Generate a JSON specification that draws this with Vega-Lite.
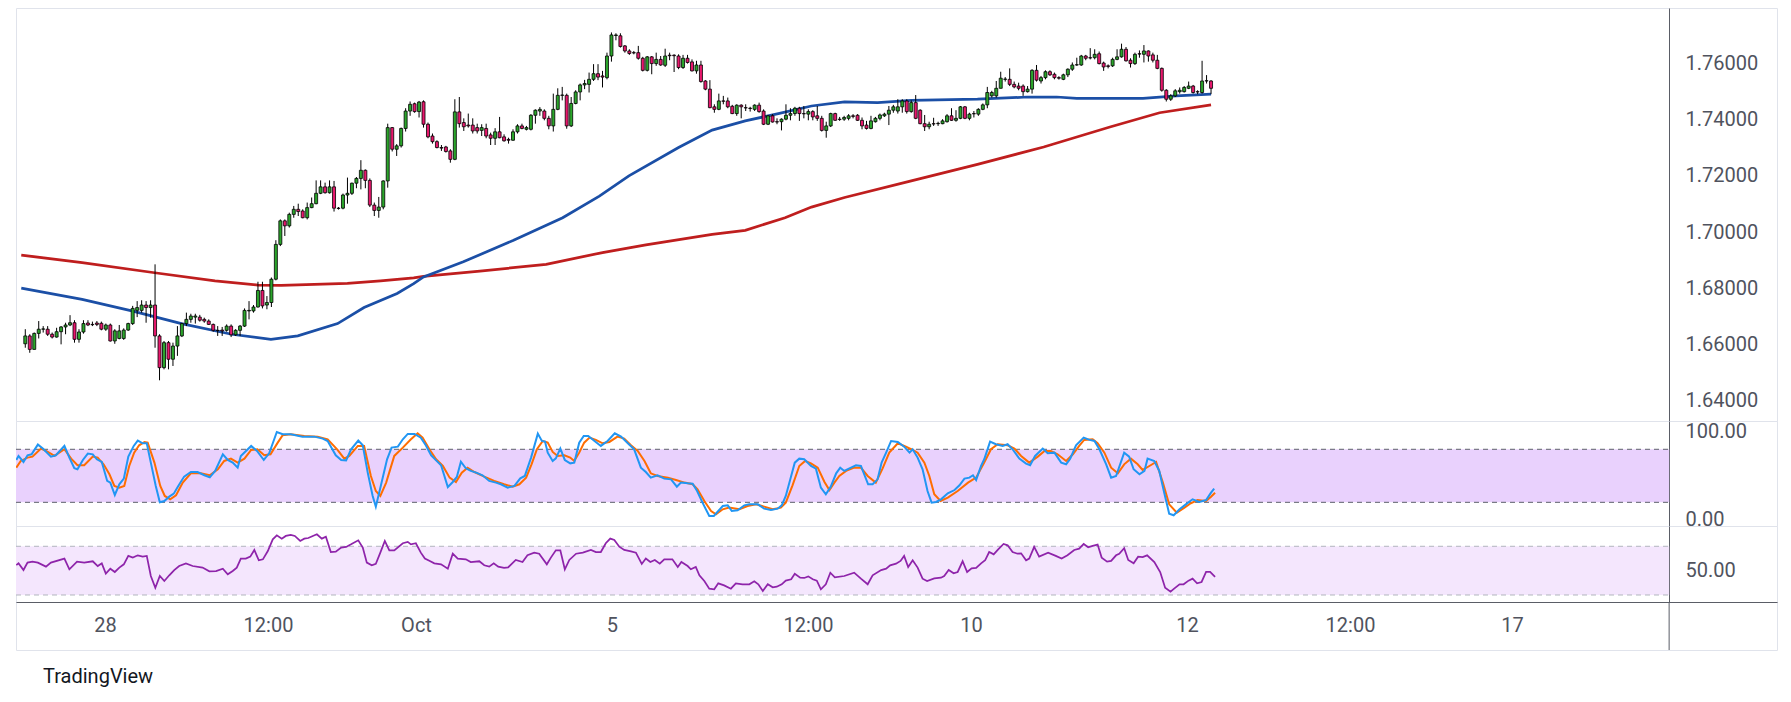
{
  "$schema": "https://vega.github.io/schema/vega-lite/v6.json",
  "background": "white",
  "padding": {"left": 15, "top": 7, "right": 15, "bottom": 10},
  "title": {"text": "TradingView", "orient": "bottom", "anchor": "start", "font": "Roboto", "fontSize": 20, "fontWeight": "normal", "color": "#131722", "dx": 28, "offset": 16},
  "spacing": 0,
  "bounds": "flush",
  "resolve": {"scale": {"x": "independent", "y": "independent"}},
  "datasets": {
    "candles": [
      {"i":0,"o":1.6602,"h":1.6654,"l":1.6588,"c":1.6630},{"i":1,"o":1.6630,"h":1.6636,"l":1.6570,"c":1.6582},{"i":2,"o":1.6582,"h":1.6642,"l":1.6582,"c":1.6639},{"i":3,"o":1.6639,"h":1.6683,"l":1.6621,"c":1.6654},{"i":4,"o":1.6654,"h":1.6665,"l":1.6642,"c":1.6655},{"i":5,"o":1.6654,"h":1.6665,"l":1.6630,"c":1.6636},{"i":6,"o":1.6636,"h":1.6642,"l":1.6621,"c":1.6626},{"i":7,"o":1.6626,"h":1.6659,"l":1.6624,"c":1.6645},{"i":8,"o":1.6645,"h":1.6665,"l":1.6600,"c":1.6662},{"i":9,"o":1.6662,"h":1.6677,"l":1.6636,"c":1.6669},
      {"i":10,"o":1.6669,"h":1.6704,"l":1.6665,"c":1.6677},{"i":11,"o":1.6677,"h":1.6686,"l":1.6606,"c":1.6618},{"i":12,"o":1.6618,"h":1.6654,"l":1.6606,"c":1.6644},{"i":13,"o":1.6644,"h":1.6686,"l":1.6638,"c":1.6674},{"i":14,"o":1.6676,"h":1.6686,"l":1.6665,"c":1.6669},{"i":15,"o":1.6671,"h":1.6681,"l":1.6665,"c":1.6670},{"i":16,"o":1.6676,"h":1.6683,"l":1.6665,"c":1.6671},{"i":17,"o":1.6675,"h":1.6681,"l":1.6650,"c":1.6654},{"i":18,"o":1.6654,"h":1.6674,"l":1.6648,"c":1.6669},{"i":19,"o":1.6669,"h":1.6674,"l":1.6610,"c":1.6612},
      {"i":20,"o":1.6612,"h":1.6654,"l":1.6602,"c":1.6648},{"i":21,"o":1.6621,"h":1.6669,"l":1.6618,"c":1.6648},{"i":22,"o":1.6621,"h":1.6657,"l":1.6616,"c":1.6651},{"i":23,"o":1.6651,"h":1.6677,"l":1.6648,"c":1.6674},{"i":24,"o":1.6674,"h":1.6737,"l":1.6669,"c":1.6728},{"i":25,"o":1.6721,"h":1.6754,"l":1.6697,"c":1.6731},{"i":26,"o":1.6721,"h":1.6757,"l":1.6713,"c":1.6740},{"i":27,"o":1.6740,"h":1.6754,"l":1.6677,"c":1.6731},{"i":28,"o":1.6731,"h":1.6757,"l":1.6695,"c":1.6740},{"i":29,"o":1.6740,"h":1.6885,"l":1.6588,"c":1.6630},
      {"i":30,"o":1.6630,"h":1.6636,"l":1.6472,"c":1.6517},{"i":31,"o":1.6517,"h":1.6612,"l":1.6511,"c":1.6606},{"i":32,"o":1.6606,"h":1.6612,"l":1.6511,"c":1.6547},{"i":33,"o":1.6547,"h":1.6606,"l":1.6523,"c":1.6594},{"i":34,"o":1.6594,"h":1.6665,"l":1.6559,"c":1.6630},{"i":35,"o":1.6630,"h":1.6677,"l":1.6626,"c":1.6674},{"i":36,"o":1.6674,"h":1.6713,"l":1.6665,"c":1.6689},{"i":37,"o":1.6689,"h":1.6709,"l":1.6677,"c":1.6701},{"i":38,"o":1.6697,"h":1.6709,"l":1.6674,"c":1.6701},{"i":39,"o":1.6697,"h":1.6705,"l":1.6681,"c":1.6686},
      {"i":40,"o":1.6689,"h":1.6695,"l":1.6677,"c":1.6683},{"i":41,"o":1.6683,"h":1.6689,"l":1.6669,"c":1.6671},{"i":42,"o":1.6671,"h":1.6674,"l":1.6645,"c":1.6650},{"i":43,"o":1.6650,"h":1.6665,"l":1.6630,"c":1.6649},{"i":44,"o":1.6651,"h":1.6662,"l":1.6630,"c":1.6648},{"i":45,"o":1.6650,"h":1.6671,"l":1.6645,"c":1.6665},{"i":46,"o":1.6665,"h":1.6671,"l":1.6626,"c":1.6634},{"i":47,"o":1.6634,"h":1.6654,"l":1.6630,"c":1.6650},{"i":48,"o":1.6650,"h":1.6669,"l":1.6630,"c":1.6665},{"i":49,"o":1.6665,"h":1.6728,"l":1.6662,"c":1.6721},
      {"i":50,"o":1.6719,"h":1.6754,"l":1.6689,"c":1.6721},{"i":51,"o":1.6719,"h":1.6740,"l":1.6713,"c":1.6733},{"i":52,"o":1.6733,"h":1.6823,"l":1.6731,"c":1.6792},{"i":53,"o":1.6792,"h":1.6823,"l":1.6728,"c":1.6737},{"i":54,"o":1.6740,"h":1.6772,"l":1.6725,"c":1.6749},{"i":55,"o":1.6749,"h":1.6838,"l":1.6733,"c":1.6832},{"i":56,"o":1.6832,"h":1.6971,"l":1.6828,"c":1.6956},{"i":57,"o":1.6956,"h":1.7045,"l":1.6950,"c":1.7040},{"i":58,"o":1.7040,"h":1.7045,"l":1.6986,"c":1.7022},{"i":59,"o":1.7022,"h":1.7069,"l":1.7016,"c":1.7063},
      {"i":60,"o":1.7063,"h":1.7093,"l":1.7051,"c":1.7081},{"i":61,"o":1.7081,"h":1.7101,"l":1.7057,"c":1.7073},{"i":62,"o":1.7075,"h":1.7081,"l":1.7049,"c":1.7051},{"i":63,"o":1.7051,"h":1.7105,"l":1.7045,"c":1.7087},{"i":64,"o":1.7087,"h":1.7123,"l":1.7085,"c":1.7101},{"i":65,"o":1.7101,"h":1.7184,"l":1.7099,"c":1.7138},{"i":66,"o":1.7138,"h":1.7184,"l":1.7135,"c":1.7161},{"i":67,"o":1.7161,"h":1.7176,"l":1.7137,"c":1.7140},{"i":68,"o":1.7140,"h":1.7184,"l":1.7137,"c":1.7161},{"i":69,"o":1.7161,"h":1.7182,"l":1.7073,"c":1.7085},
      {"i":70,"o":1.7085,"h":1.7089,"l":1.7080,"c":1.7084},{"i":71,"o":1.7085,"h":1.7137,"l":1.7081,"c":1.7132},{"i":72,"o":1.7132,"h":1.7194,"l":1.7101,"c":1.7138},{"i":73,"o":1.7138,"h":1.7176,"l":1.7132,"c":1.7174},{"i":74,"o":1.7174,"h":1.7196,"l":1.7156,"c":1.7191},{"i":75,"o":1.7191,"h":1.7256,"l":1.7152,"c":1.7220},{"i":76,"o":1.7220,"h":1.7223,"l":1.7156,"c":1.7184},{"i":77,"o":1.7184,"h":1.7191,"l":1.7089,"c":1.7096},{"i":78,"o":1.7096,"h":1.7105,"l":1.7057,"c":1.7077},{"i":79,"o":1.7077,"h":1.7125,"l":1.7051,"c":1.7089},
      {"i":80,"o":1.7089,"h":1.7184,"l":1.7081,"c":1.7182},{"i":81,"o":1.7182,"h":1.7386,"l":1.7158,"c":1.7372},{"i":82,"o":1.7372,"h":1.7374,"l":1.7287,"c":1.7295},{"i":83,"o":1.7295,"h":1.7313,"l":1.7271,"c":1.7307},{"i":84,"o":1.7307,"h":1.7372,"l":1.7301,"c":1.7369},{"i":85,"o":1.7369,"h":1.7441,"l":1.7358,"c":1.7431},{"i":86,"o":1.7431,"h":1.7465,"l":1.7414,"c":1.7455},{"i":87,"o":1.7457,"h":1.7461,"l":1.7425,"c":1.7429},{"i":88,"o":1.7429,"h":1.7467,"l":1.7408,"c":1.7463},{"i":89,"o":1.7464,"h":1.7469,"l":1.7372,"c":1.7384},
      {"i":90,"o":1.7384,"h":1.7390,"l":1.7334,"c":1.7339},{"i":91,"o":1.7342,"h":1.7351,"l":1.7315,"c":1.7322},{"i":92,"o":1.7322,"h":1.7327,"l":1.7298,"c":1.7301},{"i":93,"o":1.7301,"h":1.7310,"l":1.7289,"c":1.7299},{"i":94,"o":1.7303,"h":1.7307,"l":1.7283,"c":1.7287},{"i":95,"o":1.7289,"h":1.7295,"l":1.7247,"c":1.7259},{"i":96,"o":1.7259,"h":1.7473,"l":1.7256,"c":1.7428},{"i":97,"o":1.7428,"h":1.7481,"l":1.7372,"c":1.7386},{"i":98,"o":1.7390,"h":1.7405,"l":1.7360,"c":1.7375},{"i":99,"o":1.7381,"h":1.7422,"l":1.7372,"c":1.7378},
      {"i":100,"o":1.7381,"h":1.7405,"l":1.7351,"c":1.7360},{"i":101,"o":1.7372,"h":1.7386,"l":1.7351,"c":1.7360},{"i":102,"o":1.7362,"h":1.7384,"l":1.7342,"c":1.7372},{"i":103,"o":1.7369,"h":1.7386,"l":1.7334,"c":1.7342},{"i":104,"o":1.7346,"h":1.7354,"l":1.7310,"c":1.7334},{"i":105,"o":1.7334,"h":1.7370,"l":1.7310,"c":1.7357},{"i":106,"o":1.7357,"h":1.7410,"l":1.7334,"c":1.7336},{"i":107,"o":1.7339,"h":1.7348,"l":1.7322,"c":1.7325},{"i":108,"o":1.7330,"h":1.7336,"l":1.7315,"c":1.7327},{"i":109,"o":1.7327,"h":1.7366,"l":1.7325,"c":1.7357},
      {"i":110,"o":1.7357,"h":1.7384,"l":1.7351,"c":1.7378},{"i":111,"o":1.7378,"h":1.7386,"l":1.7366,"c":1.7369},{"i":112,"o":1.7366,"h":1.7378,"l":1.7362,"c":1.7372},{"i":113,"o":1.7366,"h":1.7420,"l":1.7362,"c":1.7416},{"i":114,"o":1.7416,"h":1.7437,"l":1.7386,"c":1.7434},{"i":115,"o":1.7431,"h":1.7445,"l":1.7414,"c":1.7437},{"i":116,"o":1.7431,"h":1.7437,"l":1.7398,"c":1.7405},{"i":117,"o":1.7405,"h":1.7414,"l":1.7366,"c":1.7378},{"i":118,"o":1.7378,"h":1.7493,"l":1.7358,"c":1.7437},{"i":119,"o":1.7437,"h":1.7512,"l":1.7434,"c":1.7487},
      {"i":120,"o":1.7487,"h":1.7517,"l":1.7469,"c":1.7488},{"i":121,"o":1.7487,"h":1.7493,"l":1.7368,"c":1.7378},{"i":122,"o":1.7378,"h":1.7481,"l":1.7374,"c":1.7458},{"i":123,"o":1.7458,"h":1.7505,"l":1.7455,"c":1.7499},{"i":124,"o":1.7499,"h":1.7529,"l":1.7469,"c":1.7524},{"i":125,"o":1.7524,"h":1.7542,"l":1.7509,"c":1.7529},{"i":126,"o":1.7526,"h":1.7568,"l":1.7497,"c":1.7544},{"i":127,"o":1.7544,"h":1.7598,"l":1.7538,"c":1.7564},{"i":128,"o":1.7564,"h":1.7598,"l":1.7541,"c":1.7552},{"i":129,"o":1.7556,"h":1.7574,"l":1.7515,"c":1.7552},
      {"i":130,"o":1.7550,"h":1.7639,"l":1.7544,"c":1.7627},{"i":131,"o":1.7627,"h":1.7711,"l":1.7607,"c":1.7702},{"i":132,"o":1.7700,"h":1.7708,"l":1.7683,"c":1.7702},{"i":133,"o":1.7699,"h":1.7708,"l":1.7657,"c":1.7661},{"i":134,"o":1.7663,"h":1.7666,"l":1.7639,"c":1.7645},{"i":135,"o":1.7645,"h":1.7651,"l":1.7631,"c":1.7636},{"i":136,"o":1.7639,"h":1.7645,"l":1.7633,"c":1.7638},{"i":137,"o":1.7639,"h":1.7663,"l":1.7614,"c":1.7619},{"i":138,"o":1.7619,"h":1.7624,"l":1.7572,"c":1.7576},{"i":139,"o":1.7576,"h":1.7627,"l":1.7572,"c":1.7624},
      {"i":140,"o":1.7624,"h":1.7627,"l":1.7562,"c":1.7600},{"i":141,"o":1.7600,"h":1.7639,"l":1.7592,"c":1.7615},{"i":142,"o":1.7615,"h":1.7627,"l":1.7592,"c":1.7595},{"i":143,"o":1.7594,"h":1.7653,"l":1.7588,"c":1.7627},{"i":144,"o":1.7630,"h":1.7639,"l":1.7612,"c":1.7628},{"i":145,"o":1.7630,"h":1.7633,"l":1.7570,"c":1.7628},{"i":146,"o":1.7627,"h":1.7633,"l":1.7580,"c":1.7586},{"i":147,"o":1.7586,"h":1.7631,"l":1.7581,"c":1.7619},{"i":148,"o":1.7619,"h":1.7631,"l":1.7600,"c":1.7604},{"i":149,"o":1.7606,"h":1.7615,"l":1.7572,"c":1.7574},
      {"i":150,"o":1.7574,"h":1.7610,"l":1.7564,"c":1.7595},{"i":151,"o":1.7595,"h":1.7610,"l":1.7532,"c":1.7536},{"i":152,"o":1.7538,"h":1.7541,"l":1.7505,"c":1.7509},{"i":153,"o":1.7509,"h":1.7541,"l":1.7441,"c":1.7443},{"i":154,"o":1.7446,"h":1.7455,"l":1.7425,"c":1.7437},{"i":155,"o":1.7437,"h":1.7493,"l":1.7434,"c":1.7467},{"i":156,"o":1.7467,"h":1.7485,"l":1.7455,"c":1.7466},{"i":157,"o":1.7467,"h":1.7479,"l":1.7441,"c":1.7446},{"i":158,"o":1.7448,"h":1.7453,"l":1.7420,"c":1.7422},{"i":159,"o":1.7422,"h":1.7455,"l":1.7414,"c":1.7452},
      {"i":160,"o":1.7452,"h":1.7455,"l":1.7405,"c":1.7446},{"i":161,"o":1.7443,"h":1.7455,"l":1.7431,"c":1.7442},{"i":162,"o":1.7441,"h":1.7446,"l":1.7429,"c":1.7440},{"i":163,"o":1.7437,"h":1.7455,"l":1.7431,"c":1.7452},{"i":164,"o":1.7452,"h":1.7461,"l":1.7425,"c":1.7429},{"i":165,"o":1.7431,"h":1.7437,"l":1.7381,"c":1.7384},{"i":166,"o":1.7384,"h":1.7417,"l":1.7381,"c":1.7414},{"i":167,"o":1.7414,"h":1.7420,"l":1.7390,"c":1.7392},{"i":168,"o":1.7393,"h":1.7405,"l":1.7384,"c":1.7392},{"i":169,"o":1.7393,"h":1.7405,"l":1.7362,"c":1.7402},
      {"i":170,"o":1.7402,"h":1.7455,"l":1.7398,"c":1.7416},{"i":171,"o":1.7416,"h":1.7441,"l":1.7398,"c":1.7422},{"i":172,"o":1.7422,"h":1.7446,"l":1.7414,"c":1.7441},{"i":173,"o":1.7441,"h":1.7446,"l":1.7396,"c":1.7422},{"i":174,"o":1.7422,"h":1.7449,"l":1.7405,"c":1.7421},{"i":175,"o":1.7420,"h":1.7437,"l":1.7398,"c":1.7429},{"i":176,"o":1.7429,"h":1.7434,"l":1.7398,"c":1.7410},{"i":177,"o":1.7414,"h":1.7449,"l":1.7396,"c":1.7405},{"i":178,"o":1.7405,"h":1.7414,"l":1.7358,"c":1.7362},{"i":179,"o":1.7362,"h":1.7393,"l":1.7336,"c":1.7378},
      {"i":180,"o":1.7378,"h":1.7425,"l":1.7374,"c":1.7422},{"i":181,"o":1.7422,"h":1.7425,"l":1.7396,"c":1.7398},{"i":182,"o":1.7402,"h":1.7410,"l":1.7396,"c":1.7401},{"i":183,"o":1.7402,"h":1.7414,"l":1.7396,"c":1.7408},{"i":184,"o":1.7405,"h":1.7420,"l":1.7398,"c":1.7414},{"i":185,"o":1.7414,"h":1.7420,"l":1.7405,"c":1.7412},{"i":186,"o":1.7416,"h":1.7420,"l":1.7396,"c":1.7398},{"i":187,"o":1.7398,"h":1.7408,"l":1.7366,"c":1.7378},{"i":188,"o":1.7381,"h":1.7396,"l":1.7365,"c":1.7369},{"i":189,"o":1.7369,"h":1.7414,"l":1.7366,"c":1.7396},
      {"i":190,"o":1.7393,"h":1.7410,"l":1.7390,"c":1.7405},{"i":191,"o":1.7405,"h":1.7422,"l":1.7398,"c":1.7417},{"i":192,"o":1.7414,"h":1.7425,"l":1.7410,"c":1.7420},{"i":193,"o":1.7420,"h":1.7449,"l":1.7381,"c":1.7434},{"i":194,"o":1.7434,"h":1.7453,"l":1.7425,"c":1.7446},{"i":195,"o":1.7431,"h":1.7473,"l":1.7422,"c":1.7446},{"i":196,"o":1.7446,"h":1.7473,"l":1.7425,"c":1.7467},{"i":197,"o":1.7467,"h":1.7473,"l":1.7422,"c":1.7429},{"i":198,"o":1.7429,"h":1.7469,"l":1.7425,"c":1.7461},{"i":199,"o":1.7461,"h":1.7488,"l":1.7402,"c":1.7405},
      {"i":200,"o":1.7434,"h":1.7437,"l":1.7384,"c":1.7386},{"i":201,"o":1.7386,"h":1.7417,"l":1.7360,"c":1.7375},{"i":202,"o":1.7375,"h":1.7393,"l":1.7366,"c":1.7384},{"i":203,"o":1.7386,"h":1.7407,"l":1.7378,"c":1.7385},{"i":204,"o":1.7386,"h":1.7393,"l":1.7378,"c":1.7387},{"i":205,"o":1.7386,"h":1.7402,"l":1.7384,"c":1.7396},{"i":206,"o":1.7393,"h":1.7420,"l":1.7390,"c":1.7414},{"i":207,"o":1.7414,"h":1.7441,"l":1.7396,"c":1.7398},{"i":208,"o":1.7398,"h":1.7434,"l":1.7393,"c":1.7405},{"i":209,"o":1.7405,"h":1.7449,"l":1.7402,"c":1.7446},
      {"i":210,"o":1.7446,"h":1.7449,"l":1.7402,"c":1.7405},{"i":211,"o":1.7405,"h":1.7425,"l":1.7398,"c":1.7420},{"i":212,"o":1.7422,"h":1.7431,"l":1.7408,"c":1.7421},{"i":213,"o":1.7420,"h":1.7441,"l":1.7414,"c":1.7437},{"i":214,"o":1.7437,"h":1.7458,"l":1.7434,"c":1.7453},{"i":215,"o":1.7453,"h":1.7517,"l":1.7441,"c":1.7497},{"i":216,"o":1.7485,"h":1.7503,"l":1.7479,"c":1.7497},{"i":217,"o":1.7485,"h":1.7538,"l":1.7479,"c":1.7512},{"i":218,"o":1.7512,"h":1.7571,"l":1.7512,"c":1.7548},{"i":219,"o":1.7544,"h":1.7552,"l":1.7536,"c":1.7545},
      {"i":220,"o":1.7544,"h":1.7583,"l":1.7520,"c":1.7526},{"i":221,"o":1.7526,"h":1.7536,"l":1.7512,"c":1.7517},{"i":222,"o":1.7520,"h":1.7532,"l":1.7505,"c":1.7512},{"i":223,"o":1.7520,"h":1.7526,"l":1.7485,"c":1.7500},{"i":224,"o":1.7500,"h":1.7520,"l":1.7497,"c":1.7509},{"i":225,"o":1.7509,"h":1.7580,"l":1.7493,"c":1.7576},{"i":226,"o":1.7576,"h":1.7595,"l":1.7536,"c":1.7541},{"i":227,"o":1.7538,"h":1.7556,"l":1.7529,"c":1.7550},{"i":228,"o":1.7550,"h":1.7576,"l":1.7544,"c":1.7571},{"i":229,"o":1.7571,"h":1.7576,"l":1.7556,"c":1.7560},
      {"i":230,"o":1.7562,"h":1.7568,"l":1.7544,"c":1.7550},{"i":231,"o":1.7550,"h":1.7555,"l":1.7543,"c":1.7548},{"i":232,"o":1.7544,"h":1.7564,"l":1.7541,"c":1.7560},{"i":233,"o":1.7560,"h":1.7583,"l":1.7552,"c":1.7580},{"i":234,"o":1.7580,"h":1.7604,"l":1.7574,"c":1.7595},{"i":235,"o":1.7595,"h":1.7621,"l":1.7592,"c":1.7596},{"i":236,"o":1.7595,"h":1.7631,"l":1.7592,"c":1.7627},{"i":237,"o":1.7627,"h":1.7631,"l":1.7612,"c":1.7619},{"i":238,"o":1.7621,"h":1.7655,"l":1.7615,"c":1.7620},{"i":239,"o":1.7621,"h":1.7651,"l":1.7615,"c":1.7633},
      {"i":240,"o":1.7635,"h":1.7643,"l":1.7597,"c":1.7600},{"i":241,"o":1.7602,"h":1.7607,"l":1.7574,"c":1.7588},{"i":242,"o":1.7592,"h":1.7597,"l":1.7583,"c":1.7590},{"i":243,"o":1.7592,"h":1.7621,"l":1.7588,"c":1.7615},{"i":244,"o":1.7615,"h":1.7651,"l":1.7612,"c":1.7624},{"i":245,"o":1.7624,"h":1.7671,"l":1.7621,"c":1.7651},{"i":246,"o":1.7651,"h":1.7659,"l":1.7607,"c":1.7610},{"i":247,"o":1.7612,"h":1.7619,"l":1.7586,"c":1.7600},{"i":248,"o":1.7600,"h":1.7639,"l":1.7595,"c":1.7633},{"i":249,"o":1.7635,"h":1.7647,"l":1.7621,"c":1.7634},
      {"i":250,"o":1.7633,"h":1.7666,"l":1.7604,"c":1.7645},{"i":251,"o":1.7645,"h":1.7647,"l":1.7607,"c":1.7627},{"i":252,"o":1.7631,"h":1.7639,"l":1.7604,"c":1.7612},{"i":253,"o":1.7612,"h":1.7631,"l":1.7580,"c":1.7583},{"i":254,"o":1.7583,"h":1.7586,"l":1.7500,"c":1.7505},{"i":255,"o":1.7505,"h":1.7509,"l":1.7465,"c":1.7473},{"i":256,"o":1.7473,"h":1.7491,"l":1.7467,"c":1.7485},{"i":257,"o":1.7485,"h":1.7509,"l":1.7481,"c":1.7503},{"i":258,"o":1.7500,"h":1.7515,"l":1.7493,"c":1.7505},{"i":259,"o":1.7500,"h":1.7520,"l":1.7497,"c":1.7515},
      {"i":260,"o":1.7512,"h":1.7536,"l":1.7509,"c":1.7520},{"i":261,"o":1.7520,"h":1.7524,"l":1.7493,"c":1.7497},{"i":262,"o":1.7500,"h":1.7505,"l":1.7491,"c":1.7499},{"i":263,"o":1.7497,"h":1.7610,"l":1.7493,"c":1.7538},{"i":264,"o":1.7538,"h":1.7559,"l":1.7529,"c":1.7539},{"i":265,"o":1.7538,"h":1.7541,"l":1.7491,"c":1.7512}
    ],
    "ema50": [
      {"i":-0.9,"v":1.6800},{"i":12.7,"v":1.6760},{"i":23.8,"v":1.6719},{"i":34.9,"v":1.6674},{"i":46.1,"v":1.6636},{"i":54.9,"v":1.6618},{"i":60.9,"v":1.6630},{"i":69.8,"v":1.6674},{"i":75.7,"v":1.6731},{"i":83.1,"v":1.6781},{"i":86.8,"v":1.6816},{"i":89,"v":1.6840},{"i":97.9,"v":1.6894},{"i":109,"v":1.6970},{"i":120.1,"v":1.7051},{"i":128.3,"v":1.7128},{"i":134.9,"v":1.7200},{"i":146,"v":1.7301},{"i":153.5,"v":1.7363},{"i":160.9,"v":1.7396},{"i":168.3,"v":1.7422},{"i":175.7,"v":1.7449},{"i":183.1,"v":1.7464},{"i":190.5,"v":1.7461},{"i":198,"v":1.7469},{"i":212.8,"v":1.7473},{"i":223.9,"v":1.7481},{"i":230.5,"v":1.7481},{"i":235,"v":1.7476},{"i":249.8,"v":1.7476},{"i":257.2,"v":1.7485},{"i":265,"v":1.7491}
    ],
    "ema200": [
      {"i":-0.9,"v":1.6918},{"i":12.7,"v":1.6891},{"i":28.9,"v":1.6855},{"i":42.4,"v":1.6826},{"i":52,"v":1.6811},{"i":57.2,"v":1.6810},{"i":72,"v":1.6817},{"i":79.4,"v":1.6826},{"i":86.8,"v":1.6837},{"i":89,"v":1.6842},{"i":101.6,"v":1.6861},{"i":116.4,"v":1.6885},{"i":129,"v":1.6927},{"i":138.7,"v":1.6954},{"i":153.5,"v":1.6992},{"i":160.9,"v":1.7006},{"i":169.8,"v":1.7051},{"i":175.7,"v":1.7089},{"i":183.1,"v":1.7123},{"i":198,"v":1.7182},{"i":212.8,"v":1.7241},{"i":227.6,"v":1.7303},{"i":242.4,"v":1.7374},{"i":253.5,"v":1.7425},{"i":265,"v":1.7453}
    ],
    "k": [
      {"i":-0.9,"v":67.9},{"i":-0.4,"v":72.5},{"i":0.7,"v":65.7},{"i":1.6,"v":73.2},{"i":2.5,"v":74.3},{"i":3.9,"v":85.3},{"i":5.0,"v":80.8},{"i":6.8,"v":71.7},{"i":7.9,"v":73.2},{"i":9.8,"v":83.8},{"i":10.9,"v":70.6},{"i":12.0,"v":58.5},{"i":12.7,"v":57.4},{"i":13.9,"v":67.9},{"i":15.0,"v":75.1},{"i":16.1,"v":74.3},{"i":17.0,"v":68.7},{"i":18.1,"v":65.7},{"i":19.3,"v":44.2},{"i":20.0,"v":42.3},{"i":21.0,"v":28.3},{"i":22.0,"v":40.4},{"i":23.0,"v":46.8},{"i":24.0,"v":71.7},{"i":25.2,"v":83.8},{"i":26.1,"v":89.8},{"i":27.2,"v":86.8},{"i":28.1,"v":86.8},{"i":29.0,"v":64.9},{"i":30.1,"v":38.5},{"i":31.0,"v":20.0},{"i":32.0,"v":21.5},{"i":33.1,"v":26.4},{"i":34.1,"v":29.8},{"i":35.1,"v":38.5},{"i":36.4,"v":49.1},{"i":37.9,"v":54.3},{"i":39.4,"v":54.3},{"i":40.9,"v":50.6},{"i":42.1,"v":48.3},{"i":43.3,"v":55.5},{"i":45.0,"v":74.3},{"i":46.1,"v":67.9},{"i":47.2,"v":64.9},{"i":48.3,"v":59.2},{"i":49.0,"v":72.5},{"i":51.3,"v":83.8},{"i":52.6,"v":78.1},{"i":54.1,"v":67.9},{"i":55.3,"v":75.5},{"i":57.0,"v":99.6},{"i":58.3,"v":97.0},{"i":60.1,"v":97.0},{"i":62.7,"v":94.3},{"i":65.3,"v":94.3},{"i":67.2,"v":92.1},{"i":68.3,"v":89.4},{"i":70.1,"v":73.2},{"i":71.3,"v":67.9},{"i":72.4,"v":67.5},{"i":73.5,"v":80.0},{"i":75.1,"v":89.8},{"i":76.1,"v":84.5},{"i":77.2,"v":53.6},{"i":78.3,"v":27.2},{"i":79.0,"v":15.1},{"i":80.1,"v":38.5},{"i":81.5,"v":68.7},{"i":82.5,"v":81.9},{"i":83.9,"v":83.0},{"i":85.0,"v":91.3},{"i":86.1,"v":97.4},{"i":87.6,"v":97.4},
      {"i":89.0,"v":93.2},{"i":90.1,"v":84.5},{"i":91.3,"v":73.2},{"i":92.4,"v":67.5},{"i":93.5,"v":61.9},{"i":95.0,"v":37.3},{"i":96.1,"v":43.0},{"i":97.0,"v":48.7},{"i":97.9,"v":66.0},{"i":99.0,"v":58.5},{"i":100.1,"v":55.5},{"i":101.3,"v":53.6},{"i":102.7,"v":50.6},{"i":104.2,"v":44.2},{"i":105.7,"v":42.3},{"i":106.8,"v":40.4},{"i":108.3,"v":36.6},{"i":109.8,"v":38.5},{"i":111.1,"v":47.2},{"i":112.1,"v":49.8},{"i":113.5,"v":70.6},{"i":115.0,"v":97.7},{"i":115.9,"v":89.4},{"i":116.6,"v":88.7},{"i":117.2,"v":76.2},{"i":118.3,"v":66.8},{"i":119.0,"v":69.8},{"i":120.0,"v":80.8},{"i":121.0,"v":67.9},{"i":122.2,"v":64.1},{"i":123.1,"v":64.9},{"i":124.2,"v":87.5},{"i":125.2,"v":95.1},{"i":126.2,"v":95.1},{"i":127.6,"v":89.4},{"i":129.0,"v":83.8},{"i":130.5,"v":89.4},{"i":132.1,"v":98.1},{"i":133.5,"v":94.3},{"i":135.0,"v":86.8},{"i":136.4,"v":80.0},{"i":137.9,"v":59.2},{"i":139.0,"v":54.3},{"i":140.1,"v":47.9},{"i":141.6,"v":50.6},{"i":143.1,"v":46.8},{"i":144.6,"v":46.0},{"i":145.9,"v":37.7},{"i":146.8,"v":42.3},{"i":148.3,"v":41.5},{"i":149.4,"v":41.1},{"i":150.4,"v":32.8},{"i":151.6,"v":19.6},{"i":153.1,"v":4.5},{"i":154.1,"v":4.5},{"i":155.1,"v":10.2},{"i":156.1,"v":15.8},{"i":157.2,"v":16.6},{"i":158.1,"v":10.2},{"i":159.4,"v":10.9},{"i":160.9,"v":16.6},{"i":162.0,"v":17.7},{"i":163.9,"v":17.7},{"i":165.3,"v":12.8},{"i":166.8,"v":11.3},{"i":168.3,"v":12.8},{"i":169.2,"v":16.6},{"i":170.1,"v":27.2},{"i":171.3,"v":49.8},{"i":172.1,"v":64.9},{"i":173.1,"v":69.4},{"i":174.2,"v":68.7},
      {"i":175.7,"v":61.1},{"i":176.8,"v":58.1},{"i":177.9,"v":36.6},{"i":179.0,"v":29.1},{"i":180.1,"v":37.7},{"i":181.3,"v":52.8},{"i":182.2,"v":59.2},{"i":183.1,"v":55.5},{"i":184.6,"v":59.2},{"i":185.7,"v":61.9},{"i":186.8,"v":61.1},{"i":188.4,"v":40.4},{"i":189.4,"v":40.4},{"i":190.5,"v":46.0},{"i":191.4,"v":64.9},{"i":192.4,"v":76.2},{"i":193.5,"v":89.4},{"i":195.0,"v":88.3},{"i":196.4,"v":83.0},{"i":197.6,"v":76.2},{"i":198.3,"v":80.0},{"i":199.4,"v":70.6},{"i":200.5,"v":57.4},{"i":201.6,"v":32.8},{"i":202.5,"v":19.6},{"i":203.5,"v":20.4},{"i":204.6,"v":23.4},{"i":206.1,"v":30.2},{"i":207.6,"v":33.9},{"i":208.7,"v":39.2},{"i":209.8,"v":46.8},{"i":210.9,"v":47.9},{"i":211.7,"v":50.6},{"i":212.4,"v":45.3},{"i":213.5,"v":61.1},{"i":214.2,"v":68.7},{"i":215.5,"v":88.7},{"i":216.8,"v":85.7},{"i":218.3,"v":83.8},{"i":219.4,"v":85.7},{"i":220.5,"v":80.0},{"i":222.0,"v":69.4},{"i":223.5,"v":63.8},{"i":224.4,"v":61.9},{"i":225.5,"v":72.5},{"i":227.2,"v":80.8},{"i":228.3,"v":75.5},{"i":229.8,"v":76.2},{"i":231.3,"v":64.9},{"i":232.4,"v":63.0},{"i":233.3,"v":69.4},{"i":234.6,"v":84.5},{"i":236.3,"v":93.2},{"i":237.6,"v":90.6},{"i":238.7,"v":89.4},{"i":239.8,"v":80.0},{"i":241.3,"v":63.0},{"i":242.4,"v":47.9},{"i":243.5,"v":49.8},{"i":245.3,"v":76.2},{"i":246.4,"v":71.7},{"i":247.4,"v":57.4},{"i":248.7,"v":51.7},{"i":249.8,"v":55.5},{"i":250.5,"v":69.4},{"i":252.0,"v":66.8},{"i":253.1,"v":55.5},{"i":254.2,"v":30.9},{"i":255.3,"v":7.2},{"i":256.3,"v":5.3},{"i":257.6,"v":12.1},{"i":259.0,"v":17.7},{"i":260.5,"v":23.4},{"i":262.0,"v":20.4},{"i":263.5,"v":22.6},{"i":264.6,"v":30.9},{"i":265.3,"v":35.5}
    ],
    "d": [
      {"i":-0.9,"v":59.2},{"i":0.1,"v":66.8},{"i":1.6,"v":70.6},{"i":2.7,"v":71.7},{"i":4.6,"v":80.8},{"i":6.1,"v":77.0},{"i":7.6,"v":72.5},{"i":9.8,"v":80.0},{"i":11.3,"v":69.4},{"i":12.7,"v":61.9},{"i":14.2,"v":61.9},{"i":16.1,"v":71.7},{"i":17.2,"v":70.6},{"i":18.5,"v":63.0},{"i":19.8,"v":51.7},{"i":20.9,"v":38.5},{"i":22.0,"v":36.6},{"i":23.1,"v":38.5},{"i":24.2,"v":61.1},{"i":25.3,"v":76.2},{"i":26.4,"v":84.5},{"i":27.6,"v":88.3},{"i":28.3,"v":87.5},{"i":29.8,"v":64.9},{"i":31.1,"v":38.5},{"i":32.1,"v":27.2},{"i":33.3,"v":23.4},{"i":34.6,"v":27.9},{"i":36.1,"v":42.3},{"i":37.9,"v":52.8},{"i":40.1,"v":52.8},{"i":42.1,"v":50.6},{"i":43.9,"v":57.4},{"i":45.3,"v":66.8},{"i":46.8,"v":69.4},{"i":48.3,"v":64.9},{"i":49.8,"v":69.4},{"i":51.3,"v":79.2},{"i":52.7,"v":80.0},{"i":54.2,"v":73.2},{"i":55.6,"v":74.3},{"i":57.2,"v":87.5},{"i":58.3,"v":95.9},{"i":60.1,"v":97.0},{"i":63.1,"v":95.1},{"i":66.1,"v":94.3},{"i":68.3,"v":91.3},{"i":70.4,"v":80.0},{"i":72.0,"v":69.4},{"i":73.1,"v":72.5},{"i":75.0,"v":83.8},{"i":76.4,"v":83.8},{"i":77.9,"v":49.8},{"i":79.0,"v":32.8},{"i":80.0,"v":27.2},{"i":81.3,"v":42.3},{"i":83.1,"v":72.5},{"i":85.0,"v":81.9},{"i":86.8,"v":91.3},{"i":88.3,"v":98.1},
      {"i":89.4,"v":93.2},{"i":90.9,"v":80.0},{"i":92.4,"v":68.7},{"i":93.9,"v":61.1},{"i":95.4,"v":47.9},{"i":96.8,"v":43.0},{"i":98.1,"v":53.6},{"i":99.4,"v":59.2},{"i":100.9,"v":54.3},{"i":103.1,"v":49.1},{"i":105.3,"v":44.2},{"i":107.5,"v":40.4},{"i":109.4,"v":37.7},{"i":110.9,"v":40.4},{"i":112.4,"v":47.9},{"i":113.6,"v":63.0},{"i":114.8,"v":80.0},{"i":116.1,"v":89.4},{"i":117.2,"v":87.5},{"i":118.3,"v":77.0},{"i":119.4,"v":72.5},{"i":120.9,"v":73.2},{"i":122.2,"v":70.6},{"i":123.1,"v":66.8},{"i":124.2,"v":76.2},{"i":125.3,"v":87.5},{"i":126.5,"v":93.2},{"i":127.9,"v":90.6},{"i":129.4,"v":86.8},{"i":130.9,"v":88.3},{"i":132.7,"v":94.3},{"i":134.2,"v":92.1},{"i":135.7,"v":84.5},{"i":137.2,"v":78.1},{"i":138.7,"v":66.8},{"i":140.1,"v":52.8},{"i":141.6,"v":49.8},{"i":143.9,"v":47.9},{"i":145.7,"v":45.3},{"i":147.6,"v":42.3},{"i":149.4,"v":40.4},{"i":150.5,"v":34.7},{"i":152.0,"v":21.5},{"i":153.5,"v":10.2},{"i":154.6,"v":6.4},{"i":156.1,"v":12.1},{"i":157.5,"v":14.0},{"i":159.8,"v":12.1},{"i":161.6,"v":15.8},{"i":163.5,"v":17.7},{"i":165.3,"v":15.1},{"i":167.2,"v":12.1},{"i":169.0,"v":14.0},{"i":170.1,"v":19.6},{"i":171.6,"v":39.2},{"i":173.1,"v":61.1},{"i":174.4,"v":66.8},
      {"i":175.7,"v":64.1},{"i":177.2,"v":59.2},{"i":178.7,"v":43.0},{"i":179.8,"v":33.9},{"i":180.9,"v":42.3},{"i":182.0,"v":49.8},{"i":183.5,"v":55.5},{"i":185.3,"v":59.2},{"i":186.8,"v":59.2},{"i":188.3,"v":49.8},{"i":190.1,"v":42.3},{"i":191.6,"v":58.1},{"i":193.1,"v":76.2},{"i":195.0,"v":86.8},{"i":196.8,"v":83.0},{"i":198.3,"v":79.2},{"i":199.4,"v":76.2},{"i":200.9,"v":64.9},{"i":202.0,"v":49.8},{"i":203.1,"v":29.1},{"i":204.5,"v":21.5},{"i":206.1,"v":25.3},{"i":208.3,"v":32.8},{"i":210.6,"v":42.3},{"i":212.4,"v":47.9},{"i":214.2,"v":64.9},{"i":215.7,"v":80.0},{"i":217.2,"v":85.7},{"i":219.4,"v":84.5},{"i":220.9,"v":80.8},{"i":222.4,"v":72.5},{"i":224.2,"v":64.9},{"i":226.1,"v":71.7},{"i":227.6,"v":78.1},{"i":229.0,"v":78.1},{"i":230.5,"v":74.3},{"i":232.4,"v":66.8},{"i":233.9,"v":74.3},{"i":235.3,"v":83.8},{"i":236.4,"v":90.6},{"i":238.3,"v":91.3},{"i":239.4,"v":86.8},{"i":240.9,"v":76.2},{"i":242.4,"v":59.2},{"i":243.9,"v":52.8},{"i":245.3,"v":63.0},{"i":246.8,"v":69.4},{"i":248.3,"v":63.0},{"i":249.4,"v":56.6},{"i":250.9,"v":61.1},{"i":252.4,"v":65.7},{"i":253.9,"v":42.3},{"i":255.3,"v":17.7},{"i":257.0,"v":8.3},{"i":258.7,"v":14.0},{"i":260.1,"v":18.9},{"i":261.6,"v":22.6},{"i":263.5,"v":21.5},{"i":264.6,"v":26.4},{"i":265.5,"v":30.9}
    ],
    "rsi": [
      {"i":-0.9,"v":54.6},{"i":-0.4,"v":56.0},{"i":0.7,"v":50.5},{"i":1.6,"v":56.6},{"i":2.7,"v":57.4},{"i":3.9,"v":56.6},{"i":5.7,"v":53.3},{"i":6.8,"v":56.6},{"i":9.8,"v":59.9},{"i":10.9,"v":51.1},{"i":12.6,"v":57.4},{"i":14.2,"v":56.6},{"i":16.1,"v":57.7},{"i":17.2,"v":53.8},{"i":18.1,"v":56.0},{"i":19.0,"v":47.5},{"i":20.0,"v":51.6},{"i":21.0,"v":48.9},{"i":22.0,"v":52.5},{"i":23.0,"v":55.2},{"i":24.0,"v":62.1},{"i":25.0,"v":60.7},{"i":26.1,"v":62.6},{"i":27.2,"v":61.5},{"i":28.1,"v":62.1},{"i":29.0,"v":45.6},{"i":30.0,"v":36.0},{"i":31.0,"v":45.6},{"i":32.0,"v":41.5},{"i":33.1,"v":46.2},{"i":34.2,"v":50.5},{"i":35.3,"v":53.8},{"i":36.8,"v":56.0},{"i":38.3,"v":53.8},{"i":40.5,"v":52.5},{"i":42.0,"v":49.4},{"i":43.5,"v":49.7},{"i":45.0,"v":51.6},{"i":46.1,"v":47.0},{"i":47.2,"v":49.7},{"i":48.1,"v":52.5},{"i":49.0,"v":59.9},{"i":50.1,"v":59.9},{"i":51.1,"v":61.5},{"i":52.0,"v":67.0},{"i":53.0,"v":58.5},{"i":53.9,"v":59.3},{"i":55.0,"v":66.1},{"i":56.1,"v":75.7},{"i":57.0,"v":79.0},{"i":58.1,"v":76.3},{"i":59.0,"v":78.5},{"i":60.1,"v":79.3},{"i":61.0,"v":78.5},{"i":62.2,"v":74.4},{"i":63.1,"v":76.3},{"i":64.0,"v":76.8},{"i":65.0,"v":78.5},{"i":65.9,"v":79.9},{"i":67.0,"v":76.3},{"i":67.9,"v":77.9},{"i":69.0,"v":65.3},{"i":70.1,"v":65.6},{"i":71.3,"v":68.9},{"i":72.4,"v":69.5},{"i":73.5,"v":71.6},{"i":75.1,"v":74.9},{"i":76.1,"v":68.9},{"i":77.0,"v":56.6},{"i":78.1,"v":54.4},{"i":79.0,"v":55.7},{"i":80.0,"v":64.8},{"i":81.0,"v":74.4},{"i":82.0,"v":66.7},{"i":83.1,"v":66.7},{"i":85.0,"v":72.5},{"i":86.1,"v":73.6},{"i":86.8,"v":71.6},{"i":87.9,"v":72.5},{"i":89.0,"v":64.8},
      {"i":89.9,"v":59.9},{"i":91.0,"v":58.0},{"i":92.0,"v":56.0},{"i":93.5,"v":55.2},{"i":95.0,"v":51.6},{"i":96.1,"v":63.9},{"i":97.2,"v":59.9},{"i":99.0,"v":59.3},{"i":100.1,"v":57.1},{"i":102.0,"v":57.7},{"i":103.1,"v":54.4},{"i":104.2,"v":53.3},{"i":105.2,"v":56.0},{"i":106.2,"v":53.3},{"i":107.5,"v":52.2},{"i":108.4,"v":52.7},{"i":110.1,"v":58.8},{"i":111.6,"v":57.1},{"i":112.7,"v":62.6},{"i":114.2,"v":64.8},{"i":115.3,"v":63.9},{"i":117.0,"v":55.2},{"i":117.9,"v":60.7},{"i":119.0,"v":66.7},{"i":120.0,"v":66.7},{"i":121.0,"v":51.1},{"i":122.0,"v":58.8},{"i":123.5,"v":63.9},{"i":125.0,"v":64.8},{"i":126.8,"v":67.0},{"i":127.9,"v":65.3},{"i":129.0,"v":65.3},{"i":130.1,"v":72.5},{"i":131.1,"v":76.3},{"i":132.0,"v":75.2},{"i":133.1,"v":69.7},{"i":134.2,"v":67.0},{"i":135.7,"v":65.9},{"i":136.8,"v":64.8},{"i":138.1,"v":55.5},{"i":139.0,"v":59.9},{"i":140.0,"v":57.1},{"i":141.0,"v":58.8},{"i":142.1,"v":55.7},{"i":143.1,"v":59.3},{"i":144.9,"v":59.3},{"i":146.1,"v":53.0},{"i":146.9,"v":57.1},{"i":148.3,"v":53.8},{"i":149.0,"v":51.1},{"i":150.1,"v":53.0},{"i":150.9,"v":46.2},{"i":152.0,"v":41.5},{"i":153.1,"v":35.2},{"i":154.2,"v":34.7},{"i":155.1,"v":39.6},{"i":156.4,"v":37.9},{"i":157.9,"v":35.2},{"i":159.0,"v":39.6},{"i":160.5,"v":38.8},{"i":162.0,"v":38.8},{"i":163.1,"v":41.2},{"i":164.0,"v":38.8},{"i":165.0,"v":33.3},{"i":166.1,"v":38.8},{"i":167.2,"v":36.3},{"i":168.1,"v":36.8},{"i":169.2,"v":38.8},{"i":170.1,"v":41.8},{"i":171.3,"v":42.9},{"i":172.1,"v":47.5},{"i":173.3,"v":44.2},{"i":174.2,"v":44.0},{"i":175.1,"v":45.3},{"i":176.1,"v":42.9},{"i":177.0,"v":41.8},
      {"i":177.9,"v":34.7},{"i":179.0,"v":38.8},{"i":180.0,"v":48.3},{"i":181.0,"v":44.5},{"i":183.1,"v":45.6},{"i":185.3,"v":48.3},{"i":186.8,"v":43.4},{"i":188.3,"v":38.8},{"i":189.4,"v":46.2},{"i":191.3,"v":50.5},{"i":192.4,"v":51.6},{"i":193.3,"v":54.4},{"i":194.6,"v":55.7},{"i":195.6,"v":58.0},{"i":196.4,"v":62.1},{"i":197.3,"v":53.0},{"i":198.3,"v":58.5},{"i":199.4,"v":52.5},{"i":200.5,"v":43.4},{"i":201.5,"v":41.5},{"i":203.1,"v":43.7},{"i":204.6,"v":44.2},{"i":205.3,"v":45.6},{"i":206.3,"v":50.5},{"i":207.4,"v":47.8},{"i":208.3,"v":48.9},{"i":209.4,"v":57.7},{"i":210.4,"v":48.9},{"i":211.4,"v":51.9},{"i":212.4,"v":52.2},{"i":213.5,"v":56.0},{"i":214.4,"v":58.5},{"i":215.3,"v":65.3},{"i":216.3,"v":63.4},{"i":217.3,"v":67.5},{"i":218.5,"v":71.9},{"i":219.4,"v":70.8},{"i":220.5,"v":65.3},{"i":221.6,"v":63.9},{"i":222.4,"v":64.2},{"i":223.5,"v":58.5},{"i":224.2,"v":59.9},{"i":225.3,"v":69.5},{"i":226.4,"v":61.5},{"i":228.4,"v":64.8},{"i":230.1,"v":62.1},{"i":231.4,"v":59.9},{"i":232.7,"v":62.6},{"i":234.2,"v":67.0},{"i":235.3,"v":68.1},{"i":236.3,"v":71.9},{"i":237.3,"v":69.2},{"i":238.3,"v":70.3},{"i":239.4,"v":71.4},{"i":240.3,"v":60.7},{"i":241.5,"v":57.4},{"i":242.4,"v":58.0},{"i":243.5,"v":62.6},{"i":244.2,"v":63.9},{"i":245.3,"v":68.4},{"i":246.2,"v":58.8},{"i":247.4,"v":56.0},{"i":248.4,"v":61.5},{"i":249.4,"v":61.2},{"i":250.4,"v":62.6},{"i":252.0,"v":57.1},{"i":253.3,"v":48.9},{"i":254.4,"v":36.0},{"i":255.6,"v":32.7},{"i":256.4,"v":35.2},{"i":257.6,"v":38.8},{"i":258.5,"v":38.8},{"i":259.6,"v":41.8},{"i":260.5,"v":43.4},{"i":261.5,"v":39.6},{"i":262.5,"v":40.7},{"i":263.5,"v":48.9},{"i":264.4,"v":48.9},{"i":265.5,"v":44.8}
    ],
    "stochBand": [{"lo": 20, "hi": 80}],
    "stochLevels": [{"level": 20}, {"level": 80}],
    "rsiBand": [{"lo": 30, "hi": 70}],
    "rsiLevels": [{"level": 30}, {"level": 70}]
  },
  "vconcat": [
    {
      "width": 1761,
      "height": 413,
      "layer": [
        {
          "data": {"name": "ema200"},
          "mark": {"type": "line", "color": "#bf1e1e", "strokeWidth": 2.75, "clip": true},
          "encoding": {
            "x": {"field": "i", "type": "quantitative", "scale": {"domain": [-0.96, 390.37], "nice": false, "zero": false}, "axis": null},
            "y": {"field": "v", "type": "quantitative", "scale": {"domain": [1.6327, 1.7798], "nice": false, "zero": false},
                  "axis": {"orient": "right", "offset": -108, "values": [1.64, 1.66, 1.68, 1.70, 1.72, 1.74, 1.76], "format": ".5f", "labelAlign": "left", "labelBaseline": "middle", "labelPadding": 16, "title": null}}
          }
        },
        {
          "data": {"name": "ema50"},
          "mark": {"type": "line", "color": "#1b4fa6", "strokeWidth": 2.75, "clip": true},
          "encoding": {
            "x": {"field": "i", "type": "quantitative", "axis": null},
            "y": {"field": "v", "type": "quantitative"}
          }
        },
        {
          "data": {"name": "candles"},
          "mark": {"type": "rule", "color": "#000000", "strokeWidth": 1},
          "encoding": {
            "x": {"field": "i", "type": "quantitative", "axis": null},
            "y": {"field": "l", "type": "quantitative"},
            "y2": {"field": "h"}
          }
        },
        {
          "data": {"name": "candles"},
          "mark": {"type": "bar", "size": 3, "stroke": "#000000", "strokeWidth": 0.8},
          "encoding": {
            "x": {"field": "i", "type": "quantitative", "axis": null},
            "y": {"field": "o", "type": "quantitative"},
            "y2": {"field": "c"},
            "color": {"condition": {"test": "datum.c >= datum.o", "value": "#2ba52b"}, "value": "#e8186d"}
          }
        }
      ]
    },
    {
      "width": 1761,
      "height": 105,
      "layer": [
        {
          "data": {"name": "stochBand"},
          "mark": {"type": "rect", "color": "#e9d1fd"},
          "encoding": {
            "x": {"datum": -0.96, "type": "quantitative", "scale": {"domain": [-0.96, 390.37], "nice": false, "zero": false}, "axis": null},
            "x2": {"datum": 366.4},
            "y": {"field": "lo", "type": "quantitative", "scale": {"domain": [-6.8, 112.0], "nice": false, "zero": false},
                  "axis": {"orient": "right", "offset": -108, "values": [0, 100], "format": ".2f", "labelAlign": "left", "labelBaseline": "middle", "labelPadding": 16, "title": null}},
            "y2": {"field": "hi"}
          }
        },
        {
          "data": {"name": "stochLevels"},
          "mark": {"type": "rule", "color": "#5d606b", "strokeWidth": 1, "strokeDash": [5, 4]},
          "encoding": {
            "x": {"datum": -0.96, "type": "quantitative", "axis": null},
            "x2": {"datum": 366.4},
            "y": {"field": "level", "type": "quantitative"}
          }
        },
        {
          "data": {"name": "d"},
          "mark": {"type": "line", "color": "#ff6d00", "strokeWidth": 2, "clip": true},
          "encoding": {
            "x": {"field": "i", "type": "quantitative", "axis": null},
            "y": {"field": "v", "type": "quantitative"}
          }
        },
        {
          "data": {"name": "k"},
          "mark": {"type": "line", "color": "#2196f3", "strokeWidth": 2, "clip": true},
          "encoding": {
            "x": {"field": "i", "type": "quantitative", "axis": null},
            "y": {"field": "v", "type": "quantitative"}
          }
        }
      ]
    },
    {
      "width": 1761,
      "height": 76,
      "layer": [
        {
          "data": {"name": "rsiBand"},
          "mark": {"type": "rect", "color": "#f4e6fd"},
          "encoding": {
            "x": {"datum": -0.96, "type": "quantitative", "scale": {"domain": [-0.96, 390.37], "nice": false, "zero": false},
                  "axis": {"orient": "bottom", "values": [18.82, 55.04, 87.93, 131.48, 175.04, 211.26, 259.26, 295.48, 331.48],
                           "labelExpr": "datum.value < 30 ? '28' : datum.value < 70 ? '12:00' : datum.value < 100 ? 'Oct' : datum.value < 150 ? '5' : datum.value < 190 ? '12:00' : datum.value < 230 ? '10' : datum.value < 270 ? '12' : datum.value < 310 ? '12:00' : '17'",
                           "labelBaseline": "middle", "labelPadding": 23, "labelOverlap": false, "labelFlush": false, "title": null}},
            "x2": {"datum": 366.4},
            "y": {"field": "lo", "type": "quantitative", "scale": {"domain": [24.25, 86.67], "nice": false, "zero": false},
                  "axis": {"orient": "right", "offset": -108, "values": [50], "format": ".2f", "labelAlign": "left", "labelBaseline": "middle", "labelPadding": 16, "title": null}},
            "y2": {"field": "hi"}
          }
        },
        {
          "data": {"name": "rsiLevels"},
          "mark": {"type": "rule", "color": "#b2b5be", "strokeWidth": 1, "strokeDash": [5, 4]},
          "encoding": {
            "x": {"datum": -0.96, "type": "quantitative"},
            "x2": {"datum": 366.4},
            "y": {"field": "level", "type": "quantitative"}
          }
        },
        {
          "data": {"name": "rsi"},
          "mark": {"type": "line", "color": "#8e24aa", "strokeWidth": 1.75, "clip": true},
          "encoding": {
            "x": {"field": "i", "type": "quantitative"},
            "y": {"field": "v", "type": "quantitative"}
          }
        }
      ]
    },
    {
      "width": 1761,
      "height": 48,
      "data": {"values": [{}]},
      "mark": {"type": "rule", "color": "#5a5d66", "strokeWidth": 1},
      "encoding": {
        "x": {"datum": 366.4, "type": "quantitative", "scale": {"domain": [-0.96, 390.37], "nice": false, "zero": false},
              "axis": {"orient": "top", "labels": false, "title": null}}
      }
    }
  ],
  "config": {
    "font": "Roboto",
    "view": {"stroke": "#e0e3eb", "strokeWidth": 1},
    "axis": {"labelFont": "Roboto", "labelFontSize": 20, "labelColor": "#50535e", "grid": false, "ticks": false, "tickSize": 0, "domainColor": "#5a5d66", "domainWidth": 1}
  }
}
